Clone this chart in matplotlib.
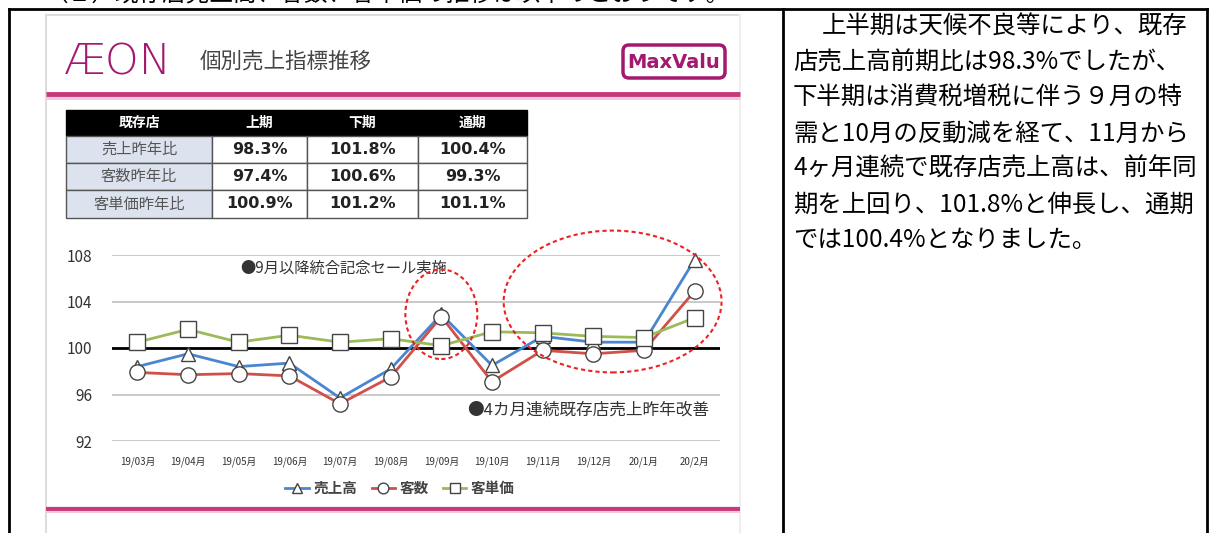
import matplotlib
matplotlib.use("Agg")
import matplotlib.pyplot as plt
from matplotlib.patches import Rectangle, Ellipse, FancyBboxPatch

plt.rcParams['font.family'] = ['Noto Sans CJK JP', 'DejaVu Sans']

# data
months = ['19/03月', '19/04月', '19/05月', '19/06月', '19/07月', '19/08月',
          '19/09月', '19/10月', '19/11月', '19/12月', '20/1月', '20/2月']
sales = [98.4, 99.5, 98.4, 98.7, 95.7, 98.2, 102.9, 98.5, 101.0, 100.5, 100.5, 107.6]
customers = [97.9, 97.7, 97.8, 97.6, 95.2, 97.5, 102.7, 97.1, 99.8, 99.5, 99.8, 104.9]
unit_price = [100.5, 101.6, 100.5, 101.1, 100.5, 100.8, 100.2, 101.4, 101.3, 101.0, 100.9, 102.6]
series_names = ['売上高', '客数', '客単価']

table_cols = ['既存店', '上期', '下期', '通期']
table_rows = ['売上昨年比', '客数昨年比', '客単価昨年比']
table_vals = [['98.3%', '101.8%', '100.4%'],
              ['97.4%', '100.6%', '99.3%'],
              ['100.9%', '101.2%', '101.1%']]

body_lines = ['上半期は天候不良等により、既存',
              '店売上高前期比は98.3%でしたが、',
              '下半期は消費税増税に伴う９月の特',
              '需と10月の反動減を経て、11月から',
              '4ヶ月連続で既存店売上高は、前年同',
              '期を上回り、101.8%と伸長し、通期',
              'では100.4%となりました。']

W, H = 1209, 533
fig = plt.figure(figsize=(W / 100, H / 100), dpi=100)
fig.patch.set_facecolor('white')

# background layer in pixel coordinates
bg = fig.add_axes([0, 0, 1, 1])
bg.set_xlim(0, W)
bg.set_ylim(H, 0)
bg.axis('off')

# cut-off line of text at the top
bg.text(45, -6, '（２）既存店売上高、客数、客単価の推移は以下のとおりです。',
        fontsize=17, va='center', ha='left', color='black')

# document table borders
bg.plot([9, 1207], [9, 9], color='black', lw=2)
bg.plot([9, 9], [9, H], color='black', lw=2)
bg.plot([783, 783], [9, H], color='black', lw=2)
bg.plot([1207, 1207], [9, H], color='black', lw=2)

# slide frame
bg.plot([46, 46], [15, H], color='#dddddd', lw=1.5)
bg.plot([46, 740], [15, 15], color='#dddddd', lw=1.5)
bg.plot([740, 740], [15, H], color='#eeeeee', lw=1.5)

# header
bg.text(64, 62, 'ÆON', fontsize=31, color='#a3196f', va='center', ha='left',
        family='DejaVu Sans', fontweight='light')
bg.text(200, 62, '個別売上指標推移', fontsize=15.5, color='#444444', va='center', ha='left')
bg.add_patch(FancyBboxPatch((623, 45), 102, 33, boxstyle='round,pad=0,rounding_size=6',
                            fc='white', ec='#a3196f', lw=2.5))
bg.text(674, 62, 'MaxValu', fontsize=14, color='#a3196f', va='center', ha='center',
        fontweight='bold', family='Liberation Sans Narrow')
bg.plot([46, 740], [94, 94], color='#c8397c', lw=3.5, solid_capstyle='butt')
bg.plot([46, 740], [97.5, 97.5], color='#f5c6dc', lw=2, solid_capstyle='butt')
bg.plot([46, 740], [509, 509], color='#c8397c', lw=3, solid_capstyle='butt')
bg.plot([46, 740], [511.5, 511.5], color='#f5c6dc', lw=1.5, solid_capstyle='butt')

# summary table
col_x = [66, 212, 307, 418, 527]
row_y = [110, 136, 163, 190, 218]
for j, c in enumerate(table_cols):
    bg.add_patch(Rectangle((col_x[j], row_y[0]), col_x[j + 1] - col_x[j], row_y[1] - row_y[0],
                           fc='black', ec='black', lw=1))
    bg.text((col_x[j] + col_x[j + 1]) / 2, (row_y[0] + row_y[1]) / 2, c, color='white',
            fontsize=10, fontweight='bold', ha='center', va='center')
for i, r in enumerate(table_rows):
    y0, y1 = row_y[i + 1], row_y[i + 2]
    bg.add_patch(Rectangle((col_x[0], y0), col_x[1] - col_x[0], y1 - y0,
                           fc='#dce3ee', ec='#555555', lw=1))
    bg.text((col_x[0] + col_x[1]) / 2, (y0 + y1) / 2, r, color='#555555',
            fontsize=11, ha='center', va='center')
    for j, v in enumerate(table_vals[i]):
        bg.add_patch(Rectangle((col_x[j + 1], y0), col_x[j + 2] - col_x[j + 1], y1 - y0,
                               fc='white', ec='#555555', lw=1))
        bg.text((col_x[j + 1] + col_x[j + 2]) / 2, (y0 + y1) / 2, v, color='#222222',
                fontsize=11.5, fontweight='bold', ha='center', va='center', family='DejaVu Sans')

# body text on the right
for k, line in enumerate(body_lines):
    x0 = 822 if k == 0 else 793
    bg.text(x0, 27 + k * 35.5, line, fontsize=17.6, ha='left', va='center', color='black')

# line chart
ax = fig.add_axes([112 / W, (H - 441) / H, (720 - 112) / W, (441 - 255) / H])
ax.set_facecolor('none')
x = list(range(len(months)))
ax.plot(x, sales, color='#4a86d0', lw=2, marker='^', ms=10, mfc='white', mec='#444444',
        mew=1, label=series_names[0], clip_on=False, zorder=3)
ax.plot(x, customers, color='#d0504a', lw=2, marker='o', ms=11, mfc='white', mec='#444444',
        mew=1, label=series_names[1], clip_on=False, zorder=4)
ax.plot(x, unit_price, color='#9bbb59', lw=2, marker='s', ms=11, mfc='white', mec='#444444',
        mew=1, label=series_names[2], clip_on=False, zorder=5)
ax.axhline(100, color='black', lw=2, zorder=2)

ax.set_xlim(-0.5, len(months) - 0.5)
ax.set_ylim(92, 108)
ax.set_yticks([92, 96, 100, 104, 108])
ax.set_yticklabels(['92', '96', '100', '104', '108'], fontsize=11, color='#333333')
ax.set_xticks(x)
ax.set_xticklabels(months, fontsize=7, color='#333333')
ax.tick_params(length=0, pad=11)
ax.tick_params(axis='y', pad=14)
ax.grid(axis='y', color='#c0c0c0', lw=1.2)
for s in ax.spines.values():
    s.set_visible(False)

# dashed ellipses and notes
ax.add_patch(Ellipse((6.0, 102.9), 1.42, 7.7, fill=False, ec='#ee2222', ls=(0, (2, 1.5)),
                     lw=1.5, clip_on=False, zorder=6))
ax.add_patch(Ellipse((9.38, 104.0), 4.3, 12.2, fill=False, ec='#ee2222', ls=(0, (2, 1.5)),
                     lw=1.5, clip_on=False, zorder=6))
bg.text(240, 268, '●9月以降統合記念セール実施', fontsize=11, color='#333333', va='center', ha='left')
bg.text(467, 410, '●4カ月連続既存店売上昨年改善', fontsize=12, color='#333333', va='center', ha='left')

handles, labels = ax.get_legend_handles_labels()
leg = fig.legend(handles, labels, loc='center', bbox_to_anchor=(400 / W, 1 - 488 / H),
                 ncol=3, frameon=False, handlelength=1.6, columnspacing=1.0,
                 handletextpad=0.3, prop={'size': 10.5, 'weight': 'bold'}, markerscale=0.7)
for t in leg.get_texts():
    t.set_color('#444444')

fig.savefig('out.png', dpi=100, facecolor='white')
